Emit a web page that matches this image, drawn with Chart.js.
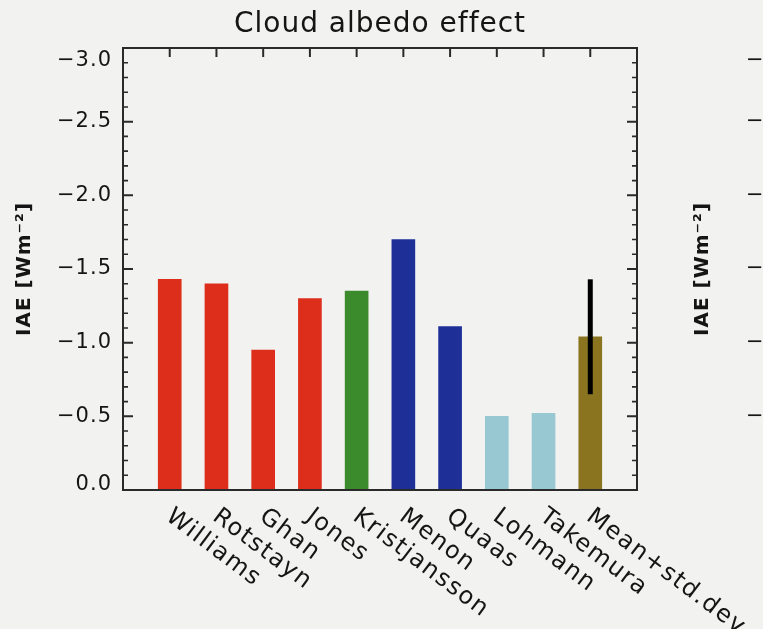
<!DOCTYPE html>
<html>
<head>
<meta charset="utf-8">
<script src="https://cdn.jsdelivr.net/npm/chart.js@4/dist/chart.umd.min.js"></script>
<style>
  html, body { margin: 0; padding: 0; background: #f2f3f0; overflow: hidden; width: 763px; height: 629px; }
  #wrap { position: relative; width: 763px; height: 629px; overflow: hidden; }
  #c1 { position: absolute; left: 0; top: 0; }
  #c2 { position: absolute; left: 678px; top: 0; }
</style>
</head>
<body>
<div id="wrap">
  <canvas id="c1" width="763" height="629"></canvas>
  <canvas id="c2" width="200" height="629"></canvas>
</div>
<script>
// ---- data ----
const categories = ['Williams', 'Rotstayn', 'Ghan', 'Jones', 'Kristjansson', 'Menon', 'Quaas', 'Lohmann', 'Takemura', 'Mean+std.dev'];
const iaeValues  = [-1.43, -1.40, -0.95, -1.30, -1.35, -1.70, -1.11, -0.50, -0.52, -1.04];
const stdDevs    = [null, null, null, null, null, null, null, null, null, 0.39];
const yTickValues = [0, -0.5, -1.0, -1.5, -2.0, -2.5, -3.0];
const yTickLabels = ['0.0', '\u22120.5', '\u22121.0', '\u22121.5', '\u22122.0', '\u22122.5', '\u22123.0'];

// ---- styles ----
const barColors = ['#dd2e1c', '#dd2e1c', '#dd2e1c', '#dd2e1c', '#3b8a2c', '#1e2f98', '#1e2f98', '#98c9d3', '#98c9d3', '#8b7420'];
const FONT = '"DejaVu Sans", "Liberation Sans", sans-serif';
const INK = '#151515';

const spacing = {
  id: 'spacing',
  beforeLayout(chart) { chart.ctx.letterSpacing = '1px'; },
  beforeDraw(chart) { chart.ctx.letterSpacing = '1px'; }
};

function tickIndex(v) {
  return yTickValues.findIndex(t => Math.abs(t - v) < 1e-6);
}

function yAxis(width) {
  return {
    type: 'linear', min: -3, max: 0, reverse: true,
    grid: { display: false, drawTicks: false },
    border: { display: false },
    afterFit(s) { s.width = width; },
    ticks: {
      stepSize: 0.5, padding: 11, color: INK,
      // end labels sit just inside the frame, as in the reference
      font: (c) => {
        const k = c.tick ? tickIndex(c.tick.value) : -1;
        const lh = k === yTickValues.length - 1 ? 26 : (k === 0 ? 10 : 25);
        return { family: FONT, size: 21, lineHeight: lh + 'px' };
      },
      callback: (v) => {
        const k = tickIndex(v);
        if (k < 0) return '';
        if (k === yTickValues.length - 1) return ['', yTickLabels[k]];
        if (k === 0) return [yTickLabels[k], ''];
        return yTickLabels[k];
      }
    },
    title: {
      display: true, text: 'IAE [Wm\u207B\u00B2]', color: INK,
      font: { family: FONT, size: 20, weight: 'bold', lineHeight: 1.2 },
      padding: { top: 13, bottom: 0 }
    }
  };
}

const frame = {
  id: 'frame',
  afterDatasetsDraw(chart) {
    const { ctx, chartArea: a, scales: { x, y } } = chart;
    ctx.save();
    // error bar
    ctx.strokeStyle = '#000';
    ctx.lineWidth = 5;
    stdDevs.forEach((s, i) => {
      if (s == null) return;
      const px = x.getPixelForValue(i);
      ctx.beginPath();
      ctx.moveTo(px, y.getPixelForValue(iaeValues[i] + s));
      ctx.lineTo(px, y.getPixelForValue(iaeValues[i] - s));
      ctx.stroke();
    });
    // inward ticks on left / right
    ctx.strokeStyle = '#2a2a2a';
    for (let k = 0; k <= 30; k++) {
      const py = y.getPixelForValue(-k / 10);
      const major = k % 5 === 0;
      const len = major ? 10 : 5;
      ctx.lineWidth = major ? 2 : 1.6;
      ctx.beginPath();
      ctx.moveTo(a.left, py); ctx.lineTo(a.left + len, py);
      ctx.moveTo(a.right, py); ctx.lineTo(a.right - len, py);
      ctx.stroke();
    }
    // top ticks at each category
    ctx.lineWidth = 2;
    categories.forEach((c, i) => {
      const px = x.getPixelForValue(i);
      ctx.beginPath();
      ctx.moveTo(px, a.top); ctx.lineTo(px, a.top + 9);
      ctx.stroke();
    });
    // box
    ctx.lineWidth = 2;
    ctx.strokeRect(a.left, a.top, a.right - a.left, a.bottom - a.top);
    ctx.restore();
  },
  afterDraw(chart) {
    const { ctx, chartArea: a, scales: { x } } = chart;
    ctx.save();
    ctx.font = '24px ' + FONT;
    ctx.letterSpacing = '1.5px';
    ctx.fillStyle = INK;
    ctx.textAlign = 'left';
    ctx.textBaseline = 'alphabetic';
    categories.forEach((c, i) => {
      const px = x.getPixelForValue(i);
      ctx.save();
      ctx.translate(px - 5, a.bottom + 29);
      ctx.rotate(37 * Math.PI / 180);
      ctx.fillText(c, 0, 0);
      ctx.restore();
    });
    ctx.restore();
  }
};

new Chart(document.getElementById('c1'), {
  type: 'bar',
  data: {
    datasets: [{
      label: 'IAE',
      data: categories.map((c, i) => ({ x: i, y: iaeValues[i] })),
      backgroundColor: barColors,
      borderWidth: 0,
      barThickness: 23
    }]
  },
  options: {
    responsive: false, animation: false, devicePixelRatio: 1,
    layout: { padding: { left: 0, right: 126, top: 0, bottom: 139 } },
    plugins: {
      legend: { display: false },
      tooltip: { enabled: false },
      title: {
        display: true, fullSize: false, text: 'Cloud albedo effect', color: INK,
        font: { family: FONT, size: 28, weight: 'normal', lineHeight: 1.2 },
        padding: { top: 8, bottom: 6.4 }
      }
    },
    scales: {
      x: { type: 'linear', min: -1, max: 10, offset: false, grid: { offset: false }, display: false },
      y: yAxis(123)
    }
  },
  plugins: [spacing, frame]
});

// neighbouring panel (only its y axis is visible at the right edge)
new Chart(document.getElementById('c2'), {
  type: 'bar',
  data: { datasets: [] },
  options: {
    responsive: false, animation: false, devicePixelRatio: 1,
    layout: { padding: { left: 0, right: 0, top: 48, bottom: 139 } },
    plugins: { legend: { display: false }, tooltip: { enabled: false }, title: { display: false } },
    scales: {
      x: { type: 'linear', min: -1, max: 10, offset: false, display: false },
      y: yAxis(134)
    }
  },
  plugins: [spacing]
});
</script>
</body>
</html>
